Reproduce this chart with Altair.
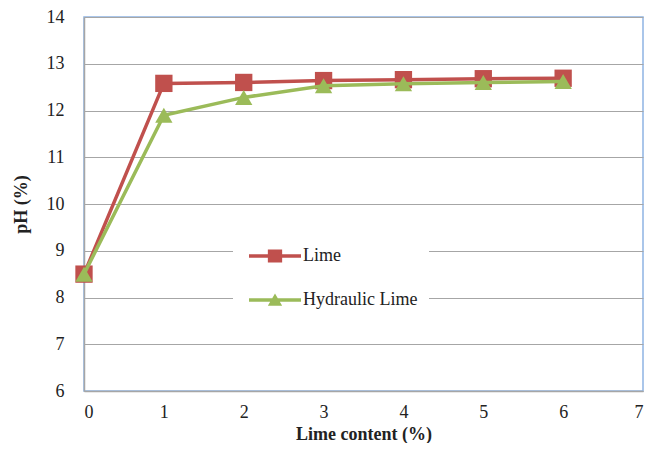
import altair as alt
import pandas as pd

x_vals = [0, 1, 2, 3, 4, 5, 6]
lime = [8.5, 12.58, 12.6, 12.64, 12.66, 12.68, 12.69]
hydraulic = [8.5, 11.9, 12.28, 12.53, 12.57, 12.6, 12.62]
series_names = ["Lime", "Hydraulic Lime"]
colors = ["#C0504D", "#9BBB59"]
y_ticks = [6, 7, 8, 9, 10, 11, 12, 13, 14]
x_ticks = [0, 1, 2, 3, 4, 5, 6, 7]

rows = []
for xv, a, b in zip(x_vals, lime, hydraulic):
    rows.append({"x": xv, "y": a, "series": series_names[0]})
    rows.append({"x": xv, "y": b, "series": series_names[1]})
df = pd.DataFrame(rows)

FONT = "Liberation Serif"

xenc = alt.X("x:Q", scale=alt.Scale(domain=[0, 7], nice=False),
             axis=alt.Axis(values=x_ticks, title="Lime content (%)", grid=False,
                           format="d"))
yenc = alt.Y("y:Q", scale=alt.Scale(domain=[6, 14], nice=False),
             axis=alt.Axis(values=y_ticks, title="pH (%)", grid=True, format="d"))

base = alt.Chart(df)

layers = []
for name, col, shape, sz in [(series_names[0], colors[0], "square", 300),
                             (series_names[1], colors[1], "triangle-up", 300)]:
    sub = base.transform_filter(alt.datum.series == name)
    layers.append(sub.mark_line(color=col, strokeWidth=3.5).encode(x=xenc, y=yenc))
    layers.append(sub.mark_point(shape=shape, filled=True, color=col, opacity=1,
                                 size=sz).encode(x=xenc, y=yenc))

path_lime = "M-2,-0.13H2V0.13H-2Z M-0.55,-0.5H0.55V0.5H-0.55Z"
path_hyd = "M-2,-0.13H2V0.13H-2Z M-0.55,0.45L0,-0.5L0.55,0.45Z"

leg = alt.Legend(title=None, orient="none", legendX=149, legendY=216,
                 padding=10, fillColor="white", strokeColor="white",
                 labelFont=FONT, labelFontSize=18, labelColor="#222222",
                 labelLimit=0, rowPadding=22, symbolSize=676,
                 symbolStrokeWidth=0, labelOffset=15, symbolOffset=19)

legend_layer = base.transform_filter("datum.x < -100").mark_point(
    filled=True, opacity=1).encode(
    x=xenc, y=yenc,
    color=alt.Color("series:N", scale=alt.Scale(domain=series_names, range=colors),
                    legend=leg),
    shape=alt.Shape("series:N", scale=alt.Scale(domain=series_names,
                                                range=[path_lime, path_hyd]),
                    legend=leg),
)

chart = alt.layer(*layers, legend_layer).properties(
    width=559, height=374,
    background="white",
    autosize=alt.AutoSizeParams(type="none"),
    padding={"left": 76, "top": 9, "right": 2, "bottom": 52},
).configure_view(
    stroke="#8EB4E3", strokeWidth=1.5
).configure_axis(
    labelFont=FONT, labelFontSize=18, labelColor="#222222",
    titleFont=FONT, titleFontSize=18, titleColor="#222222", titleFontWeight="bold",
    domainColor="#A6A6A6", domainWidth=1.5, ticks=False,
    gridColor="#A6A6A6", gridWidth=1.2,
).configure_axisX(
    labelPadding=12, titlePadding=4,
).configure_axisY(
    labelPadding=20, titlePadding=16,
)

chart.save("out.html", embed_options={"renderer": "svg", "actions": False})
